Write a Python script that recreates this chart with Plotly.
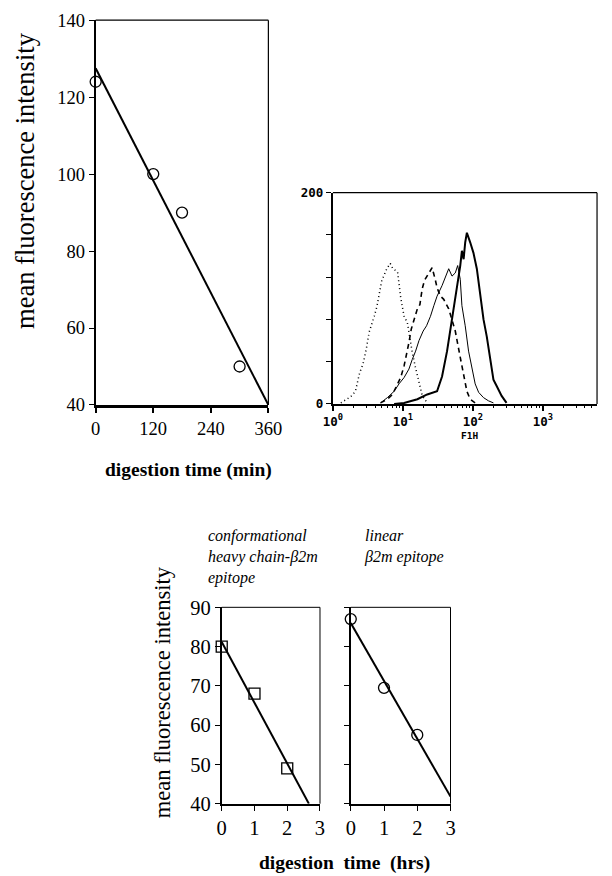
import plotly.graph_objects as go

W, H = 612, 876
# the photographed page shows up slightly reduced and inset; map target picture
# pixels to figure pixels accordingly
SX, SY, INSET = 0.968, 0.978, 10.0
SERIF = "Liberation Serif"
MONO = "DejaVu Sans Mono"

# ---------------- Panel A: MFI vs digestion time (min) ----------------
time_min = [0, 120, 180, 300]
mfi_min = [124, 100, 90, 50]
fit_min_x = [0, 360]
fit_min_y = [127.5, 40]
ticks_min_x = [0, 120, 240, 360]
ticks_min_y = [40, 60, 80, 100, 120, 140]

# ---------------- Panel B: flow cytometry histograms (FL1H) ----------------
ctrl_x = [1.3, 1.8, 2.1, 2.4, 2.7, 3.0, 3.3, 3.6, 3.9, 4.25, 4.7, 5.0, 5.4, 5.9, 6.6,
          7.2, 8.4, 8.9, 9.3, 10.4, 11.6, 12.7, 13.6, 15.2, 17.0, 18.9, 22.3]
ctrl_y = [1, 7, 12, 29, 38, 52, 68, 75, 83, 92, 109, 117, 122, 128, 133,
          128, 125, 109, 101, 83, 77, 61, 49, 34, 19, 8, 1]

dash_x = [4.8, 6.0, 7.1, 8.2, 9.3, 10.4, 11.6, 12.2, 13.2, 14.4, 16.1, 17.5, 18.9, 20.4,
          22.3, 26.2, 29.2, 30.8, 34.4, 38.4, 45.2, 50.4, 56.1, 66.1, 77.8, 82.2, 91.6, 108]
dash_y = [1, 4.5, 9, 17, 25, 36, 49, 58, 71, 79, 90, 94, 109, 117,
          121, 129, 117, 110, 102, 99, 90, 79, 69, 44, 17, 12, 4.5, 1]

thin_x = [4.8, 6.0, 7.5, 8.8, 10.4, 12.2, 13.6, 15.2, 17.0, 19.5, 21.8, 24.8, 27.7, 30.8,
          36.3, 40.5, 45.2, 50.4, 56.1, 60.7, 66.1, 69.8, 77.8, 86.9, 96.8, 108, 121,
          142, 167, 197]
thin_y = [1, 6, 12, 19, 25, 33, 42, 50, 60, 69, 74, 83, 93, 102,
          112, 121, 128, 121, 124, 131, 118, 93, 74, 50, 33, 19, 11,
          6, 3, 1]

thick_x = [7.5, 10.4, 16.1, 22.3, 30.8, 36.3, 42.8, 50.4, 59.3, 66.1, 69.8, 73.8, 77.8,
           82.2, 91.6, 102, 114, 127, 142, 158, 176, 197, 219, 258, 303]
thick_y = [0, 1, 4.5, 9, 12, 26, 50, 79, 109, 131, 145, 137, 153,
           162, 153, 143, 128, 105, 80, 64, 42, 23, 17, 7.6, 1]

hist_major = [1, 10, 100, 1000]
hist_major_text = ["<b>10<sup>0</sup></b>", "<b>10<sup>1</sup></b>",
                   "<b>10<sup>2</sup></b>", "<b>10<sup>3</sup></b>"]
hist_minor = [m * d for d in (1, 10, 100, 1000) for m in range(2, 10)]
hist_y_ticks = [0, 40, 80, 120, 160, 200]
hist_y_text = ["<b>0</b>", "", "", "", "", "<b>200</b>"]

# ---------------- Panel C: MFI vs digestion time (hrs) ----------------
time_hrs = [0, 1, 2]
mfi_conf = [80, 68, 49]
fit_conf_x = [0, 2.66]
fit_conf_y = [81.2, 40]
mfi_lin = [87, 69.5, 57.5]
fit_lin_x = [0, 3]
fit_lin_y = [86, 41.8]
ticks_hrs_x = [0, 1, 2, 3]
ticks_hrs_y = [40, 50, 60, 70, 80, 90]


def fpx(t):
    return min(t / SX - INSET, W - 1)


def fpy(t):
    return t / SY - INSET


def fx(t):
    return fpx(t) / W


def fy(t):
    return 1 - fpy(t) / H


fig = go.Figure()

# Panel A traces
fig.add_trace(go.Scatter(x=fit_min_x, y=fit_min_y, mode="lines",
                         line=dict(color="black", width=2), xaxis="x", yaxis="y",
                         cliponaxis=False, hoverinfo="skip"))
fig.add_trace(go.Scatter(x=time_min, y=mfi_min, mode="markers",
                         marker=dict(symbol="circle-open", size=11, color="black",
                                     line=dict(width=1.3)),
                         xaxis="x", yaxis="y", cliponaxis=False))

# Panel B traces
fig.add_trace(go.Scatter(x=ctrl_x, y=ctrl_y, mode="lines",
                         line=dict(color="black", width=1.5, dash="1px,3px"),
                         xaxis="x2", yaxis="y2"))
fig.add_trace(go.Scatter(x=dash_x, y=dash_y, mode="lines",
                         line=dict(color="black", width=1.6, dash="5px,4px"),
                         xaxis="x2", yaxis="y2"))
fig.add_trace(go.Scatter(x=thin_x, y=thin_y, mode="lines",
                         line=dict(color="black", width=1),
                         xaxis="x2", yaxis="y2"))
fig.add_trace(go.Scatter(x=thick_x, y=thick_y, mode="lines",
                         line=dict(color="black", width=2),
                         xaxis="x2", yaxis="y2"))
fig.add_trace(go.Scatter(x=[10], y=[0], mode="markers", marker=dict(opacity=0),
                         xaxis="x3", yaxis="y2", hoverinfo="skip"))

# Panel C traces
fig.add_trace(go.Scatter(x=fit_conf_x, y=fit_conf_y, mode="lines",
                         line=dict(color="black", width=2), xaxis="x4", yaxis="y4",
                         cliponaxis=False))
fig.add_trace(go.Scatter(x=time_hrs, y=mfi_conf, mode="markers",
                         marker=dict(symbol="square-open", size=11, color="black",
                                     line=dict(width=1.3)),
                         xaxis="x4", yaxis="y4", cliponaxis=False))
fig.add_trace(go.Scatter(x=fit_lin_x, y=fit_lin_y, mode="lines",
                         line=dict(color="black", width=2), xaxis="x5", yaxis="y5",
                         cliponaxis=False))
fig.add_trace(go.Scatter(x=time_hrs, y=mfi_lin, mode="markers",
                         marker=dict(symbol="circle-open", size=11, color="black",
                                     line=dict(width=1.3)),
                         xaxis="x5", yaxis="y5", cliponaxis=False))

axis_common = dict(showgrid=False, zeroline=False, showline=True, linecolor="black",
                   ticks="outside", tickcolor="black", mirror=False)

dom_A_x = [fx(96), fx(270)]
dom_A_y = [fy(405), fy(19)]
dom_B_x = [fx(335), fx(610)]
dom_B_y = [fy(404), fy(192)]
dom_C1_x = [fx(223), fx(322)]
dom_C2_x = [fx(353), fx(453.5)]
dom_C_y = [fy(805), fy(608)]

# keep roughly 70.5 picture px per decade on the histogram axis
hist_decades = (fpx(610) - fpx(335)) / (70.5 / SX)
hist_range = [0, hist_decades]

fig.update_layout(
    width=W, height=H, margin=dict(l=0, r=0, t=0, b=0),
    paper_bgcolor="white", plot_bgcolor="white", showlegend=False,
    xaxis=dict(**axis_common, domain=dom_A_x, anchor="y", range=[0, 360],
               tickvals=ticks_min_x, linewidth=2.5, ticklen=5, tickwidth=1.5,
               tickfont=dict(family=SERIF, size=18.5, color="black")),
    yaxis=dict(**axis_common, domain=dom_A_y, anchor="x", range=[40, 140],
               tickvals=ticks_min_y, linewidth=2, ticklen=5, tickwidth=1.2,
               tickfont=dict(family=SERIF, size=18.5, color="black")),
    xaxis2=dict(**axis_common, domain=dom_B_x, anchor="y2", type="log",
                range=hist_range, tickvals=hist_major, ticktext=hist_major_text,
                linewidth=1.5, ticklen=5, tickwidth=1.5,
                tickfont=dict(family=MONO, size=12.5, color="black")),
    xaxis3=dict(showgrid=False, zeroline=False, showline=False, domain=dom_B_x,
                anchor="y2", overlaying="x2", type="log", range=hist_range,
                tickvals=hist_minor, ticks="outside", ticklen=3, tickwidth=1,
                tickcolor="black", showticklabels=False),
    yaxis2=dict(**axis_common, domain=dom_B_y, anchor="x2", range=[0, 200],
                tickvals=hist_y_ticks, ticktext=hist_y_text, linewidth=2,
                ticklen=5, tickwidth=1.2,
                tickfont=dict(family=MONO, size=12.5, color="black")),
    xaxis4=dict(**axis_common, domain=dom_C1_x, anchor="y4", range=[0, 3],
                tickvals=ticks_hrs_x, linewidth=2, ticklen=5, tickwidth=1.2,
                tickfont=dict(family=SERIF, size=20.5, color="black")),
    yaxis4=dict(**axis_common, domain=dom_C_y, anchor="x4", range=[40, 90],
                tickvals=ticks_hrs_y, linewidth=2, ticklen=5, tickwidth=1.2,
                tickfont=dict(family=SERIF, size=20.5, color="black")),
    xaxis5=dict(**axis_common, domain=dom_C2_x, anchor="y5", range=[0, 3],
                tickvals=ticks_hrs_x, linewidth=2, ticklen=5, tickwidth=1.2,
                tickfont=dict(family=SERIF, size=20.5, color="black")),
    yaxis5=dict(**axis_common, domain=dom_C_y, anchor="x5", range=[40, 90],
                tickvals=ticks_hrs_y, showticklabels=False, linewidth=2,
                ticklen=5, tickwidth=1.2),
)

# thin top/right borders
for xr, yr, w in [("x", "y", 1.2), ("x2", "y2", 1.2), ("x4", "y4", 1), ("x5", "y5", 1)]:
    fig.add_shape(type="line", xref=f"{xr} domain", yref=f"{yr} domain",
                  x0=0, x1=1, y0=1, y1=1, line=dict(color="black", width=w))
    fig.add_shape(type="line", xref=f"{xr} domain", yref=f"{yr} domain",
                  x0=1, x1=1, y0=0, y1=1, line=dict(color="black", width=w))


def ann(text, x, y, size, family=SERIF, angle=0, xanchor="center", yanchor="middle",
        align="center"):
    fig.add_annotation(text=text, x=fx(x), y=fy(y), xref="paper", yref="paper",
                       showarrow=False, textangle=angle, xanchor=xanchor, align=align,
                       yanchor=yanchor, font=dict(family=family, size=size, color="black"))


ann("mean fluorescence intensity", 24, 180, 26.5, angle=-90)
ann("<b>digestion time (min)</b>", 190, 470, 19.5)
ann("<b>F1H</b>", 473, 436, 9.5, family=MONO)

ann("<i>conformational<br>heavy chain-β2m<br>epitope</i>", 207, 558, 16,
    xanchor="left", align="left")
ann("<i>linear<br>β2m epitope</i>", 364, 547, 16, xanchor="left", align="left")

ann("mean fluorescence intensity", 163, 693, 22.5, angle=-90)
ann("<b>digestion&#160;&#160;time&#160;&#160;(hrs)</b>", 347, 865, 19.5)

fig.write_html("out.html", config={"displayModeBar": False},
               post_script="document.body.style.margin='0';document.body.style.padding='0';")
